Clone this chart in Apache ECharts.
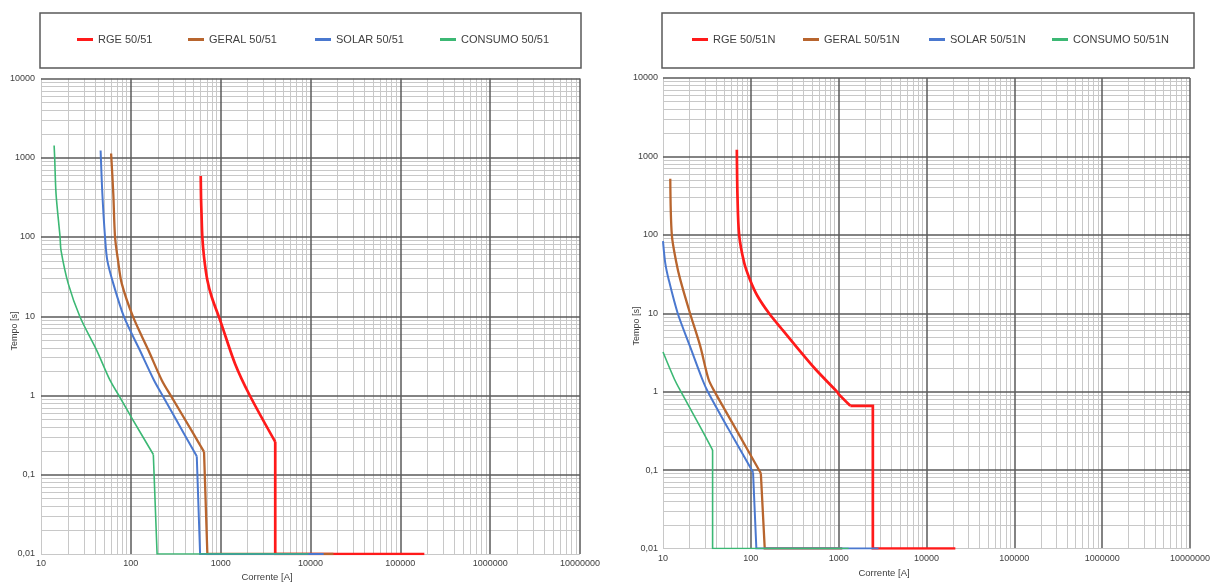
<!DOCTYPE html>
<html>
<head>
<meta charset="utf-8">
<script src="https://cdn.jsdelivr.net/npm/echarts@6/dist/echarts.min.js"></script>
<style>
html,body{margin:0;padding:0;background:#fff;}
#c{width:1213px;height:583px;}
</style>
</head>
<body>
<div id="c"></div>
<script>
// ---------- tick labels ----------
const xTickLabels = ['10','100','1000','10000','100000','1000000','10000000'];
const yTickLabels = ['0,01','0,1','1','10','100','1000','10000'];
const minorSteps = [2,3,4,5,6,7,8,9];

// ---------- left chart (50/51) ----------
const names51 = ['RGE 50/51','GERAL 50/51','SOLAR 50/51','CONSUMO 50/51'];
const rge51_I = [600, 605, 612, 625, 653, 711, 795, 1000, 1445, 2110, 4050, 4050, 185000];
const rge51_t = [587, 300, 197, 100, 55.8, 28.4, 17.5, 8.5, 2.52, 1, 0.26, 0.01, 0.01];
const geral51_I = [60.3, 63.8, 66.7, 72, 79.3, 106, 157, 221, 284, 497, 653, 711, 18000];
const geral51_t = [1133, 352, 100, 50.7, 25.8, 9.8, 3.72, 1.56, 0.96, 0.33, 0.194, 0.01, 0.01];
const solar51_I = [46.1, 48.2, 51.6, 54.7, 63.8, 84, 126, 181, 230, 391, 542, 590, 14000];
const solar51_t = [1236, 352, 100, 50.7, 25.8, 9.8, 3.72, 1.56, 0.96, 0.33, 0.171, 0.01, 0.01];
const consumo51_I = [14, 14.2, 14.7, 16.3, 16.7, 20.1, 27.2, 41.7, 58.6, 73.6, 103, 178, 196, 9500];
const consumo51_t = [1430, 1000, 352, 100, 67.8, 25.8, 9.8, 3.72, 1.56, 1, 0.515, 0.18, 0.01, 0.01];

// ---------- right chart (50/51N) ----------
const names51N = ['RGE 50/51N','GERAL 50/51N','SOLAR 50/51N','CONSUMO 50/51N'];
const rge51N_I = [69.3, 70.5, 73.6, 84, 97.5, 119, 161, 225, 320, 545, 957, 1000, 1358, 2450, 2450, 21300];
const rge51N_t = [1216, 310, 100, 44, 27, 16.6, 10, 6.3, 3.9, 1.93, 1, 0.93, 0.66, 0.66, 0.01, 0.01];
const geral51N_I = [12.1, 12.6, 14.2, 15.7, 20.3, 26.5, 33, 38.7, 67.6, 130, 144, 1100];
const geral51N_t = [520, 100, 44, 27, 10, 3.83, 1.44, 1, 0.333, 0.091, 0.01, 0.01];
const solar51N_I = [10, 10.6, 11.6, 14.7, 20.2, 28, 32.4, 55.7, 106, 115.6, 2840];
const solar51N_t = [83, 44, 27, 10, 3.83, 1.44, 1, 0.333, 0.094, 0.01, 0.01];
const consumo51N_I = [10, 13.5, 16, 27.4, 36.7, 36.7, 1300];
const consumo51N_t = [3.2, 1.44, 1, 0.333, 0.18, 0.01, 0.01];

const colors = ['#ff1a1a', '#b8652e', '#4a78cf', '#3cb874'];
const widths = [2.7, 2.3, 2, 1.6];

const FONT = 'Liberation Sans, Arial, sans-serif';
const TXT = '#404040';
const MAJOR = '#5a5a5a';
const MINOR = '#c8c8c8';

function zip(a, b) { return a.map((v, i) => [v, b[i]]); }

function gridLines(gi) {
  const minors = [], majors = [];
  for (let e = 1; e < 7; e++) {
    const base = Math.pow(10, e);
    minorSteps.forEach(m => minors.push({xAxis: base * m, lineStyle: {color: MINOR, width: 1, type: 'solid'}}));
  }
  for (let e = -2; e < 4; e++) {
    const base = Math.pow(10, e);
    minorSteps.forEach(m => minors.push({yAxis: +(base * m).toPrecision(6), lineStyle: {color: MINOR, width: 1, type: 'solid'}}));
  }
  majors.push({xAxis: 10, lineStyle: {color: MINOR, width: 1, type: 'solid'}});
  for (let e = 2; e <= 7; e++) majors.push({xAxis: Math.pow(10, e), lineStyle: {color: MAJOR, width: 1.5, type: 'solid'}});
  majors.push({yAxis: 0.01, lineStyle: {color: MINOR, width: 1, type: 'solid'}});
  for (let e = -1; e <= 4; e++) majors.push({yAxis: +Math.pow(10, e).toPrecision(6), lineStyle: {color: MAJOR, width: 1.5, type: 'solid'}});
  return {
    type: 'line', name: 'grade' + gi, data: [], xAxisIndex: gi, yAxisIndex: gi, z: 0, zlevel: 0,
    silent: true, animation: false,
    markLine: {
      z: 0, zlevel: 0,
      silent: true, animation: false, symbol: ['none', 'none'],
      label: {show: false}, emphasis: {disabled: true},
      data: minors.concat(majors)
    }
  };
}

// knee: end of the inverse-time curve, where the definite-time / instantaneous part starts
function kneeIndex(t) {
  let lastAbove = 0;
  for (let i = 0; i < t.length; i++) if (t[i] > t[t.length - 1]) lastAbove = i;
  for (let i = 0; i < t.length - 1; i++) if (t[i + 1] === t[i]) return Math.min(i, lastAbove);
  return lastAbove;
}

function curve(name, I, t, idx, gi, zz) {
  const pts = zip(I, t);
  const k = kneeIndex(t);
  const base = {
    type: 'line', name: name, xAxisIndex: gi, yAxisIndex: gi,
    showSymbol: false, symbol: 'none', z: zz, animation: false,
    lineStyle: {color: colors[idx], width: widths[idx], join: 'miter'},
    itemStyle: {color: colors[idx]},
    emphasis: {disabled: true}
  };
  return [
    Object.assign({}, base, {data: pts.slice(0, k + 1), smooth: 0.3}),
    Object.assign({}, base, {data: pts.slice(k), smooth: false})
  ];
}

function xAxis(gi, margin) {
  return {
    type: 'log', logBase: 10, gridIndex: gi, min: 10, max: 10000000, splitNumber: 6,
    axisLine: {show: false}, axisTick: {show: false}, splitLine: {show: false},
    axisLabel: {
      margin: margin, fontSize: 9, fontFamily: FONT, color: TXT,
      formatter: v => xTickLabels[Math.round(Math.log10(v)) - 1]
    }
  };
}
function yAxis(gi, margin) {
  return {
    type: 'log', logBase: 10, gridIndex: gi, min: 0.01, max: 10000, splitNumber: 6,
    axisLine: {show: false}, axisTick: {show: false}, splitLine: {show: false},
    axisLabel: {
      margin: margin, fontSize: 9, fontFamily: FONT, color: TXT,
      formatter: v => yTickLabels[Math.round(Math.log10(v)) + 2]
    }
  };
}

const legendPos = [[77, 188, 315, 440], [692, 803, 929, 1052]];
const legends = [];
[names51, names51N].forEach((ns, g) => {
  ns.forEach((n, i) => {
    legends.push({
      data: [n], left: legendPos[g][i], top: 34, padding: 0,
      icon: 'rect', itemWidth: 16, itemHeight: 3, selectedMode: false,
      textStyle: {fontSize: 11, fontFamily: FONT, color: TXT}
    });
  });
});

const series = [gridLines(0), gridLines(1)];
[
  [names51[0], rge51_I, rge51_t, 0, 0],
  [names51[1], geral51_I, geral51_t, 1, 0],
  [names51[2], solar51_I, solar51_t, 2, 0],
  [names51[3], consumo51_I, consumo51_t, 3, 0],
  [names51N[0], rge51N_I, rge51N_t, 0, 1],
  [names51N[1], geral51N_I, geral51N_t, 1, 1],
  [names51N[2], solar51N_I, solar51N_t, 2, 1],
  [names51N[3], consumo51N_I, consumo51N_t, 3, 1]
].forEach((c, n) => curve(c[0], c[1], c[2], c[3], c[4], 10 + (n % 4)).forEach(s => series.push(s)));

const option = {
  animation: false,
  backgroundColor: '#ffffff',
  grid: [
    {left: 41, top: 78.5, width: 539, height: 475.5, containLabel: false},
    {left: 663, top: 78, width: 530, height: 470.5, containLabel: false}
  ],
  xAxis: [xAxis(0, 5), xAxis(1, 6)],
  yAxis: [yAxis(0, 6), yAxis(1, 5)],
  legend: legends,
  graphic: [
    {type: 'rect', z: 0, shape: {x: 40, y: 13, width: 541, height: 55}, style: {fill: 'none', stroke: '#5a5a5a', lineWidth: 1.5}},
    {type: 'rect', z: 0, shape: {x: 662, y: 13, width: 532, height: 55}, style: {fill: 'none', stroke: '#5a5a5a', lineWidth: 1.5}},
    {type: 'text', x: 15, y: 331, rotation: Math.PI / 2, style: {text: 'Tempo [s]', align: 'center', verticalAlign: 'middle', textAlign: 'center', textVerticalAlign: 'middle', fontSize: 9, fontFamily: FONT, fill: TXT}},
    {type: 'text', x: 637, y: 326, rotation: Math.PI / 2, style: {text: 'Tempo [s]', align: 'center', verticalAlign: 'middle', textAlign: 'center', textVerticalAlign: 'middle', fontSize: 9, fontFamily: FONT, fill: TXT}},
    {type: 'text', x: 267, y: 577, style: {text: 'Corrente [A]', align: 'center', verticalAlign: 'middle', textAlign: 'center', textVerticalAlign: 'middle', fontSize: 9.5, fontFamily: FONT, fill: TXT}},
    {type: 'text', x: 884, y: 573, style: {text: 'Corrente [A]', align: 'center', verticalAlign: 'middle', textAlign: 'center', textVerticalAlign: 'middle', fontSize: 9.5, fontFamily: FONT, fill: TXT}}
  ],
  series: series
};

const chart = echarts.init(document.getElementById('c'), null, {renderer: 'canvas'});
chart.setOption(option);
</script>
</body>
</html>
